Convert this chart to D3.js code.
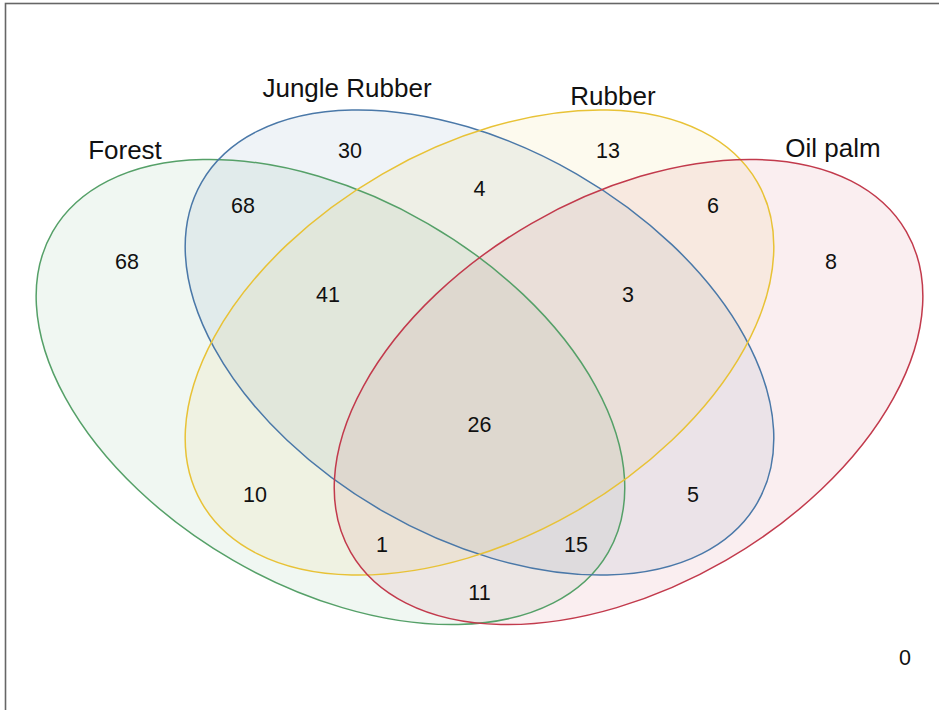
<!DOCTYPE html>
<html>
<head>
<meta charset="utf-8">
<script src="https://cdn.jsdelivr.net/npm/d3@7"></script>
<style>
  html, body { margin: 0; padding: 0; background: #ffffff; }
  svg { display: block; }
</style>
</head>
<body>
<svg id="chart" width="939" height="710"></svg>
<script>
// ---- data ----
const sets = ["Forest", "Jungle Rubber", "Rubber", "Oil palm"];
const setColors = ["#55a068", "#4a78a8", "#e8c236", "#c23a4c"];
// region labels (membership: F,J,R,O) and counts
const regions = ["F", "J", "R", "O", "FJ", "JR", "RO", "FJR", "JRO", "FJRO", "FR", "JO", "FRO", "FJO", "FO", "none"];
const counts  = [68, 30, 13, 8, 68, 4, 6, 41, 3, 26, 10, 5, 1, 15, 11, 0];

// ---- layout (unit space, VennDiagram-like) ----
const ellipseCx = [0.3344, 0.5, 0.5, 0.6656];
const ellipseCy = [0.4633, 0.4083, 0.4083, 0.4633];
const ellipseA = 0.3564, ellipseB = 0.2161;
const ellipseRot = [30, 30, -30, -30];
const labelU = [0.1083, 0.3561, 0.6428, 0.8906, 0.2372, 0.5, 0.7594, 0.3317, 0.6650, 0.5, 0.2506, 0.7372, 0.3917, 0.6072, 0.5, 0.9728];
const labelV = [0.3178, 0.1944, 0.1944, 0.3178, 0.2556, 0.2367, 0.2556, 0.3544, 0.3544, 0.4989, 0.5767, 0.5767, 0.6322, 0.6322, 0.6856, 0.7578];
const setLabelU = [0.1061, 0.3528, 0.6483, 0.8928];
const setLabelV = [0.1944, 0.1256, 0.1344, 0.1922];

const x = d3.scaleLinear().domain([0, 1]).range([29.5, 929.5]);
const y = d3.scaleLinear().domain([0, 1]).range([-25, 875]);
const len = d3.scaleLinear().domain([0, 1]).range([0, 900]);

const svg = d3.select("#chart");

// frame
svg.append("rect")
  .attr("x", 5.5).attr("y", 3.5)
  .attr("width", 960).attr("height", 740)
  .attr("fill", "none").attr("stroke", "#666").attr("stroke-width", 1.6);

const ell = sets.map((s, i) => ({
  name: s, color: setColors[i], cx: ellipseCx[i], cy: ellipseCy[i], rot: ellipseRot[i]
}));

// fills
svg.append("g").selectAll("ellipse.fill").data(ell).join("ellipse")
  .attr("class", "fill")
  .attr("cx", 0).attr("cy", 0)
  .attr("rx", len(ellipseA)).attr("ry", len(ellipseB))
  .attr("transform", d => `translate(${x(d.cx)},${y(d.cy)}) rotate(${d.rot})`)
  .attr("fill", d => d.color).attr("fill-opacity", 0.085)
  .attr("stroke", "none");

// strokes
svg.append("g").selectAll("ellipse.line").data(ell).join("ellipse")
  .attr("class", "line")
  .attr("cx", 0).attr("cy", 0)
  .attr("rx", len(ellipseA)).attr("ry", len(ellipseB))
  .attr("transform", d => `translate(${x(d.cx)},${y(d.cy)}) rotate(${d.rot})`)
  .attr("fill", "none")
  .attr("stroke", d => d.color).attr("stroke-width", 1.5);

// counts
svg.append("g").selectAll("text").data(regions.map((r, i) => ({r, c: counts[i], u: labelU[i], v: labelV[i]})))
  .join("text")
  .attr("x", d => x(d.u)).attr("y", d => y(d.v))
  .attr("dy", "0.36em")
  .attr("text-anchor", "middle")
  .attr("font-family", "Liberation Sans, Arial, sans-serif")
  .attr("font-size", 21.5)
  .attr("fill", "#111")
  .text(d => d.c);

// set names
svg.append("g").selectAll("text").data(sets.map((s, i) => ({s, u: setLabelU[i], v: setLabelV[i]})))
  .join("text")
  .attr("x", d => x(d.u)).attr("y", d => y(d.v))
  .attr("dy", "0.36em")
  .attr("text-anchor", "middle")
  .attr("font-family", "Liberation Sans, Arial, sans-serif")
  .attr("font-size", 26)
  .attr("fill", "#111")
  .text(d => d.s);
</script>
</body>
</html>
